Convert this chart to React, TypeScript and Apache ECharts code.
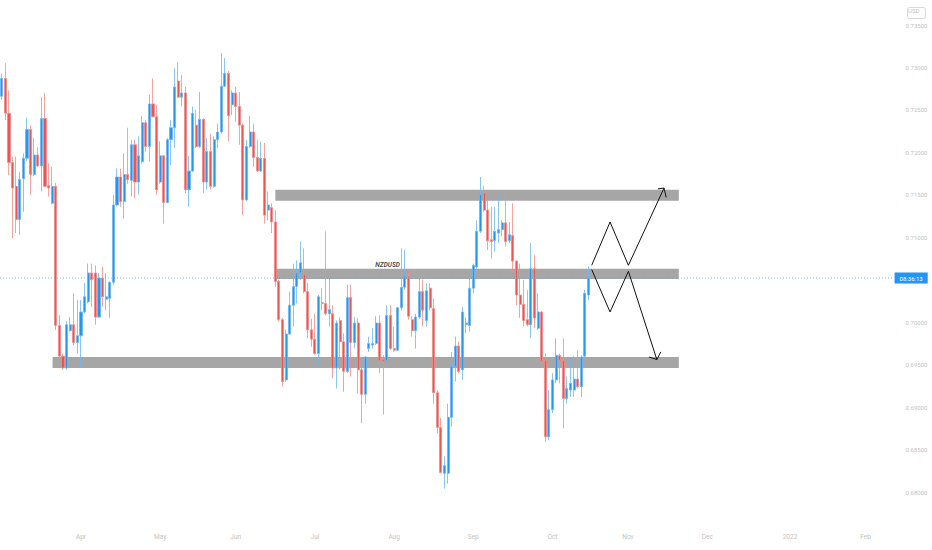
import { useEffect, useRef } from "react";
import * as echarts from "echarts";

// daily NZDUSD bars, first bar on 2021-03-02, weekdays only
const startDate = "2021-03-02";
const slotCount = 248;

// [open, close, low, high]
const candles: number[][] = [
  [0.7266, 0.7287, 0.7262, 0.7293], [0.7287, 0.7246, 0.7238, 0.7305], [0.7246, 0.7188, 0.7173, 0.7273],
  [0.7188, 0.7158, 0.7099, 0.7195], [0.716, 0.7121, 0.7105, 0.7195], [0.7121, 0.7168, 0.7103, 0.7177],
  [0.7169, 0.7193, 0.713, 0.7199], [0.7193, 0.7227, 0.719, 0.7241], [0.7227, 0.7174, 0.715, 0.7232],
  [0.7174, 0.7197, 0.7172, 0.7217], [0.7197, 0.7184, 0.7183, 0.7206], [0.7184, 0.724, 0.7154, 0.7265],
  [0.724, 0.716, 0.7159, 0.727], [0.7161, 0.7158, 0.7148, 0.7187], [0.714, 0.716, 0.7139, 0.7183],
  [0.716, 0.6996, 0.6991, 0.7164], [0.6996, 0.696, 0.6955, 0.7008], [0.696, 0.6946, 0.6944, 0.6963],
  [0.6946, 0.6997, 0.6944, 0.7001], [0.699, 0.6997, 0.6989, 0.7006], [0.6997, 0.6976, 0.6973, 0.7034],
  [0.6976, 0.6984, 0.6963, 0.7026], [0.6984, 0.7012, 0.6946, 0.7026], [0.7012, 0.703, 0.701, 0.7046],
  [0.7024, 0.7058, 0.7022, 0.7069], [0.7058, 0.705, 0.7018, 0.7069], [0.7058, 0.7006, 0.6997, 0.7067],
  [0.7006, 0.7052, 0.7005, 0.7058], [0.7052, 0.703, 0.7018, 0.7065], [0.7027, 0.703, 0.7014, 0.7058],
  [0.7028, 0.7047, 0.7005, 0.7048], [0.7047, 0.7138, 0.7044, 0.715], [0.7138, 0.7171, 0.7136, 0.7181],
  [0.7171, 0.7142, 0.7136, 0.7181], [0.7142, 0.7174, 0.7122, 0.7199], [0.7174, 0.7168, 0.7163, 0.7229],
  [0.7167, 0.7209, 0.7148, 0.7215], [0.7209, 0.7165, 0.7146, 0.7215], [0.7165, 0.7196, 0.715, 0.7219],
  [0.7189, 0.7235, 0.7187, 0.7243], [0.7235, 0.7207, 0.7201, 0.7238], [0.7207, 0.7257, 0.7189, 0.7268],
  [0.7257, 0.7242, 0.7241, 0.7287], [0.7242, 0.7156, 0.715, 0.7256], [0.7165, 0.7196, 0.7163, 0.7213],
  [0.7196, 0.7141, 0.7116, 0.7197], [0.7141, 0.7215, 0.714, 0.7217], [0.7215, 0.7229, 0.7185, 0.7238],
  [0.7229, 0.7277, 0.7205, 0.7299], [0.7284, 0.7265, 0.7264, 0.7306], [0.7265, 0.727, 0.7254, 0.7291],
  [0.727, 0.7156, 0.7152, 0.7277], [0.7156, 0.7178, 0.7136, 0.7196], [0.7178, 0.7246, 0.7177, 0.7254],
  [0.7232, 0.7207, 0.7205, 0.725], [0.7207, 0.7239, 0.7205, 0.7271], [0.7239, 0.7165, 0.7152, 0.724],
  [0.7165, 0.7201, 0.7156, 0.7217], [0.7201, 0.716, 0.7156, 0.7222], [0.716, 0.7215, 0.7158, 0.7219],
  [0.7215, 0.7224, 0.7205, 0.7234], [0.7224, 0.7278, 0.7222, 0.7317], [0.7278, 0.7293, 0.7277, 0.7311],
  [0.7293, 0.7243, 0.7213, 0.7296], [0.7256, 0.727, 0.7244, 0.7273], [0.727, 0.7254, 0.7236, 0.7277],
  [0.7254, 0.7232, 0.7209, 0.7271], [0.7232, 0.7144, 0.7126, 0.7234], [0.7144, 0.7207, 0.7143, 0.7215],
  [0.7207, 0.7224, 0.7205, 0.7243], [0.7224, 0.7194, 0.7183, 0.7234], [0.7194, 0.7178, 0.7177, 0.7215],
  [0.7178, 0.7193, 0.7177, 0.7213], [0.7193, 0.7126, 0.7116, 0.7211], [0.7132, 0.7138, 0.712, 0.7154],
  [0.7135, 0.7118, 0.7105, 0.714], [0.7118, 0.7048, 0.7042, 0.7132], [0.7048, 0.7003, 0.7001, 0.705],
  [0.7003, 0.693, 0.6924, 0.7005], [0.6932, 0.6986, 0.693, 0.6991], [0.6986, 0.702, 0.6985, 0.7036],
  [0.702, 0.7042, 0.6995, 0.7069], [0.7042, 0.7058, 0.7022, 0.7073], [0.7058, 0.707, 0.705, 0.7095],
  [0.7056, 0.7036, 0.7034, 0.7087], [0.7036, 0.6991, 0.6981, 0.7046], [0.6991, 0.698, 0.6971, 0.7004],
  [0.698, 0.6963, 0.6962, 0.701], [0.6963, 0.703, 0.6948, 0.7032], [0.7023, 0.7022, 0.7014, 0.704],
  [0.7022, 0.701, 0.7008, 0.7107], [0.701, 0.7015, 0.6995, 0.7061], [0.701, 0.6946, 0.6934, 0.702],
  [0.6946, 0.6999, 0.6922, 0.7002], [0.7002, 0.6977, 0.6944, 0.7006], [0.6977, 0.6942, 0.6918, 0.6987],
  [0.6942, 0.7029, 0.694, 0.7044], [0.7029, 0.6976, 0.6936, 0.7044], [0.6976, 0.6999, 0.6969, 0.7006],
  [0.6999, 0.6944, 0.6916, 0.7005], [0.6944, 0.6915, 0.6881, 0.6954], [0.6915, 0.6959, 0.6904, 0.696],
  [0.6969, 0.6975, 0.6965, 0.6983], [0.6973, 0.6975, 0.6969, 0.6993], [0.6975, 0.6999, 0.6973, 0.7007],
  [0.6999, 0.6955, 0.694, 0.7008], [0.6956, 0.6954, 0.6891, 0.6961], [0.6955, 0.7008, 0.6953, 0.702],
  [0.7008, 0.6969, 0.6967, 0.702], [0.6969, 0.6967, 0.6965, 0.6995], [0.6967, 0.7017, 0.6966, 0.7018],
  [0.7017, 0.7041, 0.7014, 0.7087], [0.7041, 0.7054, 0.7038, 0.7085], [0.7054, 0.7007, 0.7003, 0.7061],
  [0.7003, 0.699, 0.6983, 0.7007], [0.699, 0.7006, 0.6969, 0.701], [0.7006, 0.7036, 0.7004, 0.7061],
  [0.7036, 0.7014, 0.6995, 0.705], [0.7002, 0.7037, 0.6995, 0.7046], [0.704, 0.7017, 0.7014, 0.7046],
  [0.7016, 0.6917, 0.6904, 0.7028], [0.6917, 0.6876, 0.6869, 0.692], [0.6876, 0.6823, 0.6822, 0.6887],
  [0.6822, 0.6831, 0.6804, 0.6842], [0.6822, 0.6888, 0.681, 0.6904], [0.6888, 0.6948, 0.6877, 0.6965],
  [0.6948, 0.6972, 0.693, 0.6983], [0.6972, 0.6942, 0.694, 0.6977], [0.6944, 0.7012, 0.6932, 0.7018],
  [0.6997, 0.6999, 0.6987, 0.7006], [0.6996, 0.704, 0.6989, 0.7052], [0.704, 0.7067, 0.7034, 0.7069],
  [0.7065, 0.7107, 0.7063, 0.712], [0.7107, 0.715, 0.7105, 0.7171], [0.7152, 0.7132, 0.713, 0.716],
  [0.7132, 0.7096, 0.7085, 0.7146], [0.7097, 0.7095, 0.7075, 0.7136], [0.7096, 0.7107, 0.7083, 0.7136],
  [0.7105, 0.7109, 0.7093, 0.715], [0.7109, 0.7117, 0.7101, 0.712], [0.7117, 0.7095, 0.7089, 0.7152],
  [0.7096, 0.7103, 0.7093, 0.7118], [0.7102, 0.7072, 0.706, 0.714], [0.7072, 0.7032, 0.702, 0.7073],
  [0.7032, 0.7021, 0.7005, 0.7069], [0.7021, 0.7002, 0.6995, 0.705], [0.7003, 0.6997, 0.6995, 0.7038],
  [0.6997, 0.7063, 0.6981, 0.7093], [0.7063, 0.7005, 0.6993, 0.7079], [0.6993, 0.7012, 0.6991, 0.7034],
  [0.7012, 0.6954, 0.6953, 0.7013], [0.6955, 0.6865, 0.6859, 0.6963], [0.6865, 0.6897, 0.6861, 0.692],
  [0.6897, 0.6932, 0.6893, 0.694], [0.6932, 0.6961, 0.6928, 0.6981], [0.6961, 0.6955, 0.6928, 0.6963],
  [0.6955, 0.691, 0.6875, 0.6981], [0.691, 0.6922, 0.6904, 0.6936], [0.692, 0.6928, 0.6912, 0.6959],
  [0.692, 0.6933, 0.6912, 0.696], [0.6933, 0.6924, 0.6922, 0.6967], [0.6924, 0.6959, 0.6912, 0.6961],
  [0.696, 0.7034, 0.6959, 0.7038], [0.7032, 0.7052, 0.7026, 0.7066],
];

// drawings, x in bar slots (0 = first bar), y in price
const bandTop = [76, 188.1, 0.7143, 0.7156];
const bandMid = [76, 188.1, 0.7051, 0.7063];
const bandLow = [14.1, 188.1, 0.6946, 0.6959];

const zigUp = [[163.9, 0.7067], [169.0, 0.7118], [174.1, 0.7067], [184.0, 0.7158]];
const headUp = [[182.3, 0.7157], [184.0, 0.7158], [184.6, 0.7147]];
const zigDown = [[163.9, 0.7062], [169.0, 0.7012], [174.1, 0.706], [182.0, 0.6956]];
const headDown = [[179.8, 0.6959], [182.0, 0.6956], [183.1, 0.6965]];

const symbolLabel = [[107.2, 0.7067]];
const countdown = "08:36:13";
const yTicks = { min: 0.68, max: 0.735, step: 0.005 };
const monthNames = ["Jan", "Feb", "Mar", "Apr", "May", "Jun", "Jul", "Aug", "Sep", "Oct", "Nov", "Dec"];

function tradingDays(start: string, count: number) {
  const out: string[] = [];
  const d = new Date(start + "T00:00:00Z");
  while (out.length < count) {
    const w = d.getUTCDay();
    if (w !== 0 && w !== 6) out.push(d.toISOString().slice(0, 10));
    d.setUTCDate(d.getUTCDate() + 1);
  }
  return out;
}

const UP = "#2196f3";
const DOWN = "#ef5350";
const AXIS_TEXT = "#c2c2c2";
const SLOT = 3.61;

export default function App() {
  const ref = useRef<HTMLDivElement | null>(null);

  useEffect(() => {
    if (!ref.current) return;
    const chart = echarts.init(ref.current, undefined, { renderer: "svg" });

    const days = tradingDays(startDate, slotCount);
    const lastClose = candles[candles.length - 1][1];
    const band = (b: number[]) => [{ xAxis: b[0], yAxis: b[3] }, { xAxis: b[1], yAxis: b[2] }];
    const drawing = (data: number[][]) => ({
      type: "line",
      xAxisIndex: 1,
      data,
      symbol: "none",
      silent: true,
      z: 4,
      lineStyle: { color: "#111", width: 1 },
    });

    const option: any = {
      animation: false,
      backgroundColor: "#fff",
      grid: { left: -2.7, top: 25, width: slotCount * SLOT, height: 467 },
      xAxis: [
        {
          type: "category",
          data: days,
          boundaryGap: true,
          axisLine: { show: false },
          axisTick: { show: false },
          splitLine: { show: false },
          axisLabel: {
            color: AXIS_TEXT,
            fontSize: 6.5,
            fontFamily: "Roboto",
            margin: 41,
            interval: (i: number) => i > 0 && days[i].slice(5, 7) !== days[i - 1].slice(5, 7),
            formatter: (v: string) => {
              const m = Number(v.slice(5, 7)) - 1;
              return m === 0 ? v.slice(0, 4) : monthNames[m];
            },
          },
        },
        { type: "value", min: -0.5, max: slotCount - 0.5, show: false },
      ],
      yAxis: {
        type: "value",
        position: "right",
        min: yTicks.min,
        max: yTicks.max,
        interval: yTicks.step,
        axisLine: { show: false },
        axisTick: { show: false },
        splitLine: { show: false },
        axisLabel: {
          color: AXIS_TEXT,
          fontSize: 6,
          fontFamily: "Roboto",
          margin: 13,
          formatter: (v: number) => (Math.abs(v - 0.705) < 1e-9 ? "" : v.toFixed(5)),
        },
      },
      series: [
        {
          type: "line",
          xAxisIndex: 1,
          data: [],
          silent: true,
          z: 1,
          markArea: {
            silent: true,
            itemStyle: { color: "#a6a6a6" },
            data: [band(bandTop), band(bandMid), band(bandLow)],
          },
        },
        {
          type: "candlestick",
          data: candles,
          barWidth: 2.6,
          z: 2,
          itemStyle: {
            color: UP,
            color0: DOWN,
            borderColor: "#6cb6f5",
            borderColor0: "#f28b88",
            borderWidth: 0.8,
          },
        },
        {
          // last price line with the bar countdown tag
          type: "line",
          xAxisIndex: 1,
          data: [[-0.5, lastClose], [slotCount - 0.5, lastClose]],
          symbol: "none",
          silent: true,
          z: 3,
          lineStyle: { color: "#5aa9ef", type: [1, 2], width: 0.8 },
          endLabel: {
            show: true,
            formatter: countdown,
            color: "#fff",
            backgroundColor: "#2196f3",
            fontSize: 6,
            fontFamily: "Roboto",
            lineHeight: 6,
            padding: [2.5, 5],
            distance: 2,
          },
        },
        drawing(zigUp),
        drawing(headUp),
        drawing(zigDown),
        drawing(headDown),
        {
          type: "scatter",
          xAxisIndex: 1,
          data: symbolLabel,
          symbolSize: 0,
          silent: true,
          z: 5,
          label: {
            show: true,
            position: "inside",
            formatter: "NZDUSD",
            color: "#131722",
            fontSize: 6.5,
            fontStyle: "italic",
            fontWeight: "bold",
            fontFamily: "Roboto",
          },
        },
      ],
      graphic: [
        {
          type: "rect",
          left: 905,
          top: 5,
          shape: { width: 18, height: 11, r: 2 },
          style: { fill: "none", stroke: "#cfcfcf", lineWidth: 0.8 },
        },
        {
          type: "text",
          left: 908,
          top: 7.5,
          style: { text: "USD", fill: AXIS_TEXT, fontSize: 6, fontFamily: "Roboto" },
        },
      ],
    };

    chart.setOption(option);
    return () => {
      chart.dispose();
    };
  }, []);

  return (
    <div
      ref={ref}
      style={{ position: "fixed", left: 0, top: 0, width: 932, height: 550, background: "#fff" }}
    />
  );
}
